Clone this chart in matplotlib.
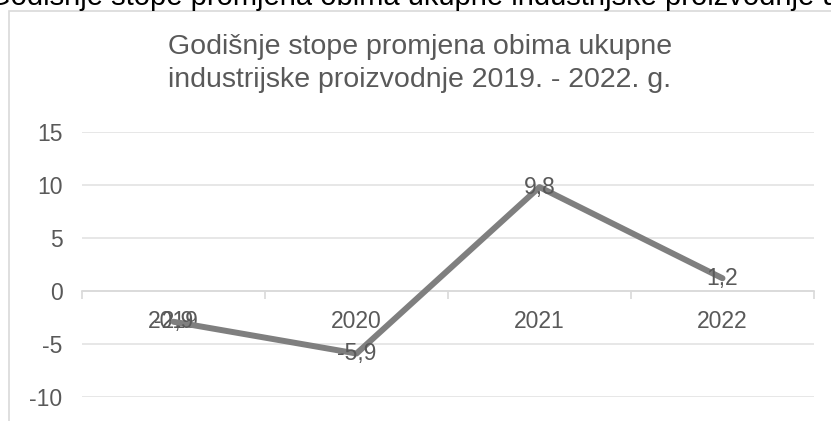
import matplotlib
matplotlib.use("Agg")
import matplotlib.pyplot as plt
from matplotlib.patches import Rectangle

categories = ["2019", "2020", "2021", "2022"]
values = [-2.9, -5.9, 9.8, 1.2]
value_labels = ["-2,9", "-5,9", "9,8", "1,2"]
y_ticks = [-10, -5, 0, 5, 10, 15]
title = "Godišnje stope promjena obima ukupne\nindustrijske proizvodnje 2019. - 2022. g."
top_text = "Godišnje stope promjena obima ukupne industrijske proizvodnje u 2019. - 2022. g."

plt.rcParams['font.family'] = ['Liberation Sans', 'DejaVu Sans']

W, H = 831, 421
fig = plt.figure(figsize=(W / 100, H / 100), dpi=100)
fig.patch.set_facecolor('white')

# outer chart border
fig.patches.append(Rectangle((9 / W, -0.1), 1.0, (H - 11) / H + 0.1,
                             transform=fig.transFigure, fill=False,
                             edgecolor='#d9d9d9', linewidth=1.2))

# cut-off text above the chart
fig.text(-12 / W, 1 - 5 / H, top_text, ha='left', va='baseline',
         fontsize=21, color='black')

left, right = 82, 814
top, bottom = 132, 397
ax = fig.add_axes([left / W, (H - bottom) / H, (right - left) / W, (bottom - top) / H])
ax.set_facecolor('none')

FS = 16.5
x = list(range(len(categories)))
ax.plot(x, values, color='#7f7f7f', linewidth=4.3, solid_capstyle='round',
        solid_joinstyle='round', zorder=3)
for xi, v, lab in zip(x, values, value_labels):
    ax.text(xi, v, lab, ha='center', va='center', fontsize=FS, color='#595959', zorder=4)

ax.set_xlim(-0.5, len(categories) - 0.5)
ax.set_ylim(min(y_ticks), max(y_ticks))
ax.set_yticks(y_ticks)
ax.set_yticklabels([str(t) for t in y_ticks])
ax.tick_params(axis='y', length=0, pad=14, labelsize=FS, labelcolor='#595959')
ax.yaxis.grid(True, color='#e3e3e3', linewidth=1.2)
ax.set_axisbelow(True)

for s in ['left', 'right', 'top']:
    ax.spines[s].set_visible(False)
ax.spines['bottom'].set_position(('data', 0))
ax.spines['bottom'].set_color('#d9d9d9')
ax.spines['bottom'].set_linewidth(1.2)

ax.set_xticks([i - 0.5 for i in range(len(categories) + 1)])
ax.set_xticklabels([])
ax.set_xticks(x, minor=True)
ax.set_xticklabels(categories, minor=True)
ax.tick_params(axis='x', which='major', length=6, color='#d9d9d9', width=1.2, direction='out')
ax.tick_params(axis='x', which='minor', length=0, pad=14, labelsize=FS, labelcolor='#595959')

fig.text(420 / W, 1 - 34 / H, title, ha='center', va='top', fontsize=20.5,
         color='#595959', linespacing=1.35)

fig.savefig('out.png', dpi=100)
